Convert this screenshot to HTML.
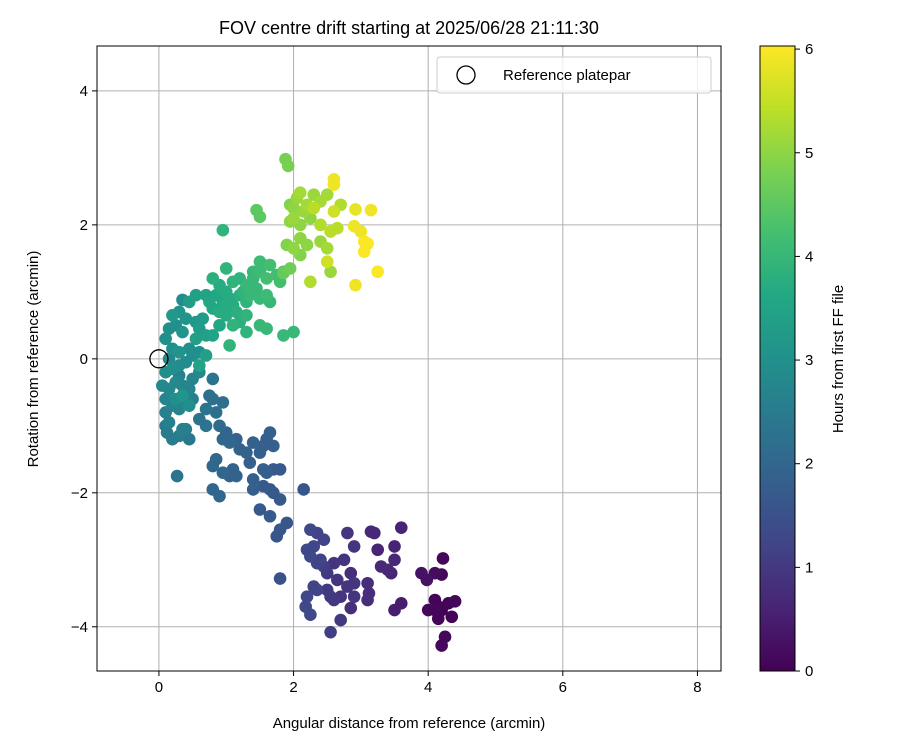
<!DOCTYPE html>
<html><head><meta charset="utf-8"><style>
body{margin:0;background:#fff;font-family:"Liberation Sans","DejaVu Sans",sans-serif}
</style></head><body>
<svg id="chart" width="900" height="750" xmlns="http://www.w3.org/2000/svg" font-family="Liberation Sans, DejaVu Sans, sans-serif">
<defs><linearGradient id="vir" x1="0" y1="1" x2="0" y2="0">
<stop offset="0" stop-color="#440154"/><stop offset="0.1" stop-color="#482475"/><stop offset="0.2" stop-color="#414487"/><stop offset="0.3" stop-color="#355f8d"/><stop offset="0.4" stop-color="#2a788e"/><stop offset="0.5" stop-color="#21918c"/><stop offset="0.6" stop-color="#22a884"/><stop offset="0.7" stop-color="#44bf70"/><stop offset="0.8" stop-color="#7ad151"/><stop offset="0.9" stop-color="#bddf26"/><stop offset="1" stop-color="#fde725"/></linearGradient>
<clipPath id="clip"><rect x="97" y="46" width="624" height="625"/></clipPath></defs>
<text x="409" y="34" font-size="18" text-anchor="middle">FOV centre drift starting at 2025/06/28 21:11:30</text>
<g id="grid"></g>
<g id="marks" clip-path="url(#clip)"></g>
<rect x="97" y="46" width="624" height="625" fill="none" stroke="#000" stroke-width="1"/>
<g id="axes"></g>
<text x="409" y="728" font-size="15" text-anchor="middle">Angular distance from reference (arcmin)</text>
<text transform="translate(38,359) rotate(-90)" font-size="15" text-anchor="middle">Rotation from reference (arcmin)</text>
<g>
<rect x="437" y="57" width="274" height="36" rx="3" fill="#fff" fill-opacity="0.8" stroke="#ccc"/>
<circle cx="466" cy="75" r="9" fill="none" stroke="#000" stroke-width="1.3"/>
<text x="503" y="80" font-size="15">Reference platepar</text>
</g>
<rect x="760" y="46" width="35" height="625" fill="url(#vir)" stroke="#000" stroke-width="1"/>
<g id="cbticks"></g>
<text transform="translate(843,359) rotate(-90)" font-size="15" text-anchor="middle">Hours from first FF file</text>
</svg>
<script>
const xTicks=[0,2,4,6,8];
const yTicks=[4,2,0,-2,-4];
const cTicks=[0,1,2,3,4,5,6];
const px=[4.22,4.1,4.2,3.98,3.9,4.0,4.1,4.15,4.2,4.3,4.4,4.35,4.15,4.2,4.25,4.1,3.6,3.15,3.2,3.25,3.5,3.3,3.4,3.45,3.5,3.1,3.12,3.1,3.5,3.6,2.85,2.9,2.8,2.75,2.6,2.7,2.85,2.7,2.55,2.9,2.8,2.9,2.65,2.5,2.5,2.6,2.25,2.35,2.45,2.3,2.2,2.25,2.35,2.4,2.45,2.3,2.35,2.2,2.18,2.25,2.55,2.15,1.8,1.9,1.8,1.75,1.6,1.65,1.7,1.55,1.5,1.4,1.3,1.2,1.35,1.55,1.6,1.7,1.8,1.4,1.4,1.55,1.65,1.7,1.5,1.65,1.8,1.1,1.05,1.15,0.95,0.8,0.85,0.8,0.9,1.05,1.0,0.95,1.15,0.9,0.95,0.8,0.75,0.8,0.7,0.85,0.7,0.6,0.1,0.12,0.2,0.15,0.3,0.4,0.45,0.35,0.27,0.1,0.2,0.3,0.4,0.5,0.25,0.35,0.45,0.05,0.15,0.25,0.35,0.5,0.6,0.1,0.2,0.3,0.4,0.5,0.15,0.2,0.3,0.45,0.6,0.7,0.1,0.15,0.25,0.35,0.4,0.2,0.3,0.35,0.45,0.55,0.6,0.55,0.7,0.8,0.65,0.55,0.7,0.6,0.1,0.3,0.45,0.8,0.9,1.0,0.85,0.95,1.05,1.1,0.8,0.9,1.0,1.15,1.2,1.3,1.25,1.1,1.2,1.3,1.4,1.5,1.45,1.35,1.5,1.6,1.65,1.0,1.1,1.3,1.3,1.5,1.6,1.05,0.95,1.55,1.65,1.75,1.8,1.85,1.6,1.5,1.4,1.0,0.9,0.75,1.2,1.85,2.0,1.45,1.5,1.88,1.92,1.95,2.0,2.05,2.1,2.2,2.3,2.4,2.5,2.6,2.6,1.95,2.1,2.25,2.4,2.55,2.6,2.7,2.1,2.2,2.4,2.5,2.65,1.9,2.0,2.1,1.95,1.85,2.5,2.55,2.25,2.3,2.92,3.15,2.9,3.0,3.05,3.1,3.05,3.25,2.92,2.0,2.15];
const py=[-2.98,-3.2,-3.22,-3.3,-3.2,-3.75,-3.6,-3.7,-3.75,-3.65,-3.62,-3.85,-3.88,-4.28,-4.15,-3.75,-2.52,-2.58,-2.6,-2.85,-2.8,-3.1,-3.15,-3.2,-3.0,-3.35,-3.5,-3.6,-3.75,-3.65,-3.2,-3.35,-3.4,-3.0,-3.05,-3.55,-3.72,-3.9,-4.08,-3.55,-2.6,-2.8,-3.3,-3.2,-3.45,-3.6,-2.55,-2.6,-2.7,-2.8,-2.85,-2.95,-3.05,-3.0,-3.1,-3.4,-3.45,-3.55,-3.7,-3.82,-3.55,-1.95,-3.28,-2.45,-2.55,-2.65,-1.2,-1.1,-1.3,-1.3,-1.4,-1.25,-1.4,-1.35,-1.55,-1.65,-1.7,-1.65,-1.65,-1.8,-1.95,-1.9,-1.95,-2.0,-2.25,-2.35,-2.1,-1.65,-1.75,-1.75,-1.7,-1.6,-1.5,-1.95,-2.05,-1.25,-1.1,-1.2,-1.2,-1.0,-0.65,-0.6,-0.55,-0.3,-0.75,-0.8,-1.0,-0.9,-1.0,-1.1,-1.2,-0.95,-1.15,-1.05,-1.2,-1.05,-1.75,-0.8,-0.7,-0.75,-0.65,-0.6,-0.6,-0.55,-0.7,-0.4,-0.45,-0.35,-0.4,-0.3,-0.2,-0.2,-0.15,-0.1,-0.05,0.05,0.0,0.15,0.1,0.15,0.1,0.05,0.3,0.45,0.5,0.4,0.6,0.65,0.7,0.88,0.85,0.55,0.45,0.3,0.35,0.35,0.6,0.95,0.95,-0.1,-0.6,-0.25,-0.45,1.2,1.1,1.0,0.95,0.85,0.9,0.8,0.75,0.7,0.65,0.7,0.95,0.85,1.0,1.15,1.2,1.1,1.2,1.3,1.05,0.95,0.9,0.95,0.85,1.35,0.5,0.65,0.4,0.5,0.45,0.2,1.92,1.4,1.4,1.25,1.15,1.3,1.2,1.45,1.3,0.8,0.5,0.85,0.55,0.35,0.4,2.22,2.12,2.98,2.88,2.3,2.25,2.4,2.48,2.3,2.45,2.35,2.45,2.6,2.68,2.05,2.0,2.1,2.0,1.9,2.2,2.3,1.8,1.7,1.75,1.65,1.95,1.7,1.65,1.55,1.35,1.28,1.45,1.3,1.15,2.25,2.23,2.22,1.98,1.9,1.75,1.72,1.6,1.3,1.1,2.1,2.2];
const pt=[0.1,0.2,0.1,0.3,0.3,0.1,0.05,0.05,0,0.05,0.1,0.05,0.05,0.1,0.1,0.1,0.6,0.7,0.7,0.6,0.6,0.7,0.7,0.6,0.7,0.8,0.8,0.8,0.5,0.5,0.8,0.9,0.9,0.9,0.9,0.9,0.8,1.0,1.1,0.9,0.9,0.9,0.9,1.0,1.0,1.0,1.3,1.2,1.2,1.3,1.3,1.3,1.2,1.2,1.1,1.2,1.2,1.3,1.3,1.3,1.0,1.6,1.5,1.6,1.6,1.6,1.8,1.8,1.8,1.8,1.8,1.9,1.9,1.9,1.8,1.8,1.8,1.7,1.7,1.8,1.8,1.7,1.7,1.7,1.7,1.7,1.7,1.9,1.9,1.9,2.0,2.0,2.0,2.0,2.0,2.0,2.0,2.0,1.9,2.1,2.2,2.2,2.2,2.3,2.3,2.2,2.3,2.3,2.5,2.5,2.5,2.6,2.5,2.5,2.4,2.6,2.3,2.6,2.7,2.7,2.7,2.6,3.0,3.1,3.0,2.8,2.8,2.8,2.7,2.7,2.8,2.9,3.0,2.9,2.9,2.9,2.8,3.0,3.1,3.0,3.0,3.4,3.0,3.0,3.0,3.1,3.1,3.2,3.1,2.9,3.3,3.2,3.3,3.4,3.4,3.5,3.3,3.4,3.5,3.5,2.7,2.6,2.7,3.8,3.7,3.7,3.6,3.6,3.7,3.7,3.6,3.7,3.7,3.8,3.8,3.9,3.9,3.9,3.9,4.0,4.0,4.1,4.0,4.0,4.0,4.1,4.0,3.9,3.9,3.9,3.9,4.0,4.0,3.9,3.9,4.1,4.2,4.2,4.2,4.3,4.2,4.1,4.0,3.7,3.6,3.6,3.8,4.0,4.0,4.5,4.5,4.8,4.8,4.9,5.0,5.1,5.2,5.2,5.1,5.2,5.2,5.9,5.9,5.0,5.0,5.0,5.3,5.4,5.6,5.3,5.0,5.0,5.1,5.2,5.4,4.9,5.0,4.9,4.7,4.6,5.6,5.1,5.3,5.4,5.8,5.9,5.9,5.9,6.0,6.0,6.0,6.0,5.9,5.1,5.1];
const X0=97,X1=721,XMIN=-0.92,XMAX=8.35,Y0=46,Y1=671,YMIN=-4.66,YMAX=4.67,CMAX=6.03;
const sx=v=>X0+(v-XMIN)/(XMAX-XMIN)*(X1-X0);
const sy=v=>Y1-(v-YMIN)/(YMAX-YMIN)*(Y1-Y0);
const sc=v=>Y1-v/CMAX*(Y1-Y0);
const stops=[[68,1,84],[72,36,117],[65,68,135],[53,95,141],[42,120,142],[33,145,140],[34,168,132],[68,191,112],[122,209,81],[189,223,38],[253,231,37]];
function vir(t){let f=Math.max(0,Math.min(1,t/CMAX))*10,i=Math.min(9,Math.floor(f)),r=f-i;const a=stops[i],b=stops[i+1];return 'rgb('+a.map((c,k)=>Math.round(c+(b[k]-c)*r)).join(',')+')';}
const NS='http://www.w3.org/2000/svg';
function mk(tag,attrs,parent){const e=document.createElementNS(NS,tag);for(const k in attrs)e.setAttribute(k,attrs[k]);parent.appendChild(e);return e;}
const grid=document.getElementById('grid'),axes=document.getElementById('axes'),marks=document.getElementById('marks'),cb=document.getElementById('cbticks');
xTicks.forEach(v=>{const x=sx(v);
const g=mk('line',{x1:x,x2:x,y1:Y0,y2:Y1,stroke:'#b0b0b0','stroke-width':1},grid);
const t=mk('line',{x1:x,x2:x,y1:Y1,y2:Y1+5,stroke:'#000'},axes);
const l=mk('text',{x:x,y:Y1+21,'font-size':15,'text-anchor':'middle'},axes);l.textContent=v;});
yTicks.forEach(v=>{const y=sy(v);
const g=mk('line',{x1:X0,x2:X1,y1:y,y2:y,stroke:'#b0b0b0','stroke-width':1},grid);
const t=mk('line',{x1:X0-5,x2:X0,y1:y,y2:y,stroke:'#000'},axes);
const l=mk('text',{x:X0-9,y:y+5,'font-size':15,'text-anchor':'end'},axes);l.textContent=v<0?'\u2212'+(-v):v;});
const idx=pt.map((t,i)=>i).sort((a,b)=>pt[a]-pt[b]);
idx.forEach(i=>{const c=mk('circle',{cx:sx(px[i]),cy:sy(py[i]),r:6.3,fill:vir(pt[i])},marks);});
const ref=mk('circle',{cx:sx(0),cy:sy(0),r:9,fill:'none',stroke:'#000','stroke-width':1.3},marks);


cTicks.forEach(v=>{const y=sc(v);
const t=mk('line',{x1:795,x2:800,y1:y,y2:y,stroke:'#000'},cb);
const l=mk('text',{x:805,y:y+5,'font-size':15},cb);l.textContent=v;});
</script>
</body></html>
